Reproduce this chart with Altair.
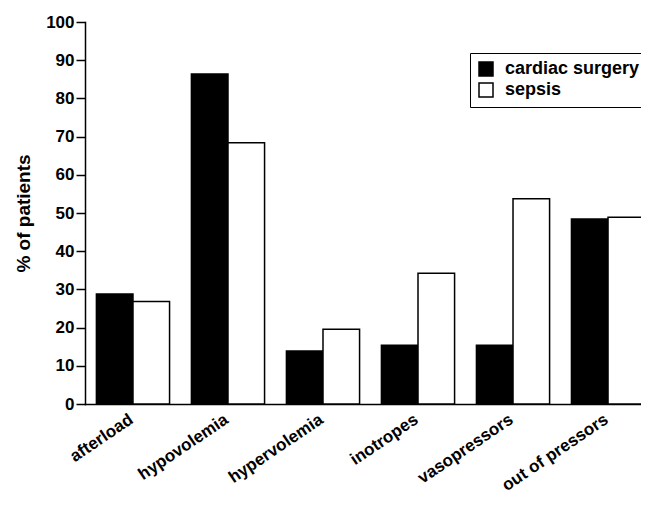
import altair as alt
import pandas as pd

categories = ["afterload", "hypovolemia", "hypervolemia", "inotropes", "vasopressors", "out of pressors"]
series = ["cardiac surgery", "sepsis"]
cardiac = [28.8, 86.4, 13.9, 15.4, 15.4, 48.4]
sepsis = [26.8, 68.4, 19.6, 34.2, 53.7, 48.9]

rows = []
for c, a, b in zip(categories, cardiac, sepsis):
    rows.append({"category": c, "group": series[0], "value": a})
    rows.append({"category": c, "group": series[1], "value": b})
df = pd.DataFrame(rows)

FONT = "Liberation Sans"

chart = alt.Chart(df).mark_bar(stroke="black", strokeWidth=1.5).encode(
    x=alt.X("category:N", sort=categories, title=None,
            scale=alt.Scale(paddingInner=0.23, paddingOuter=0.12, range=[0, 571]),
            axis=alt.Axis(labelAngle=-34, labelAlign="right", labelBaseline="top",
                          labelFont=FONT, labelFontWeight="bold", labelFontSize=17,
                          labelColor="black", ticks=False, labelPadding=7, labelOffset=-6,
                          domainColor="black", domainWidth=1.5)),
    xOffset=alt.XOffset("group:N", sort=series),
    y=alt.Y("value:Q", title="% of patients",
            scale=alt.Scale(domain=[0, 100], nice=False),
            axis=alt.Axis(values=list(range(0, 101, 10)), grid=False,
                          labelFont=FONT, labelFontWeight="bold", labelFontSize=17,
                          labelColor="black", tickColor="black", tickWidth=1.5, tickSize=9,
                          domainColor="black", domainWidth=1.5, labelPadding=2,
                          titleFont=FONT, titleFontWeight="bold", titleFontSize=19,
                          titleColor="black", titlePadding=12)),
    fill=alt.Fill("group:N", sort=series, title=None,
                  scale=alt.Scale(domain=series, range=["black", "white"]),
                  legend=alt.Legend(orient="none", legendX=385, legendY=31,
                                    symbolType="square", symbolSize=196,
                                    symbolStrokeColor="black", symbolStrokeWidth=1.5,
                                    labelFont=FONT, labelFontWeight="bold", labelFontSize=18,
                                    labelColor="black", strokeColor="black", padding=7,
                                    fillColor="white", rowPadding=1, labelOffset=10)),
).properties(
    width=556, height=382,
    autosize=alt.AutoSizeParams(type="none"),
    padding={"left": 77, "top": 14, "right": 0, "bottom": 96}
).configure_view(stroke=None).configure_axis(domainCap="square")

chart.save("out.html", embed_options={"renderer": "svg", "actions": False})
